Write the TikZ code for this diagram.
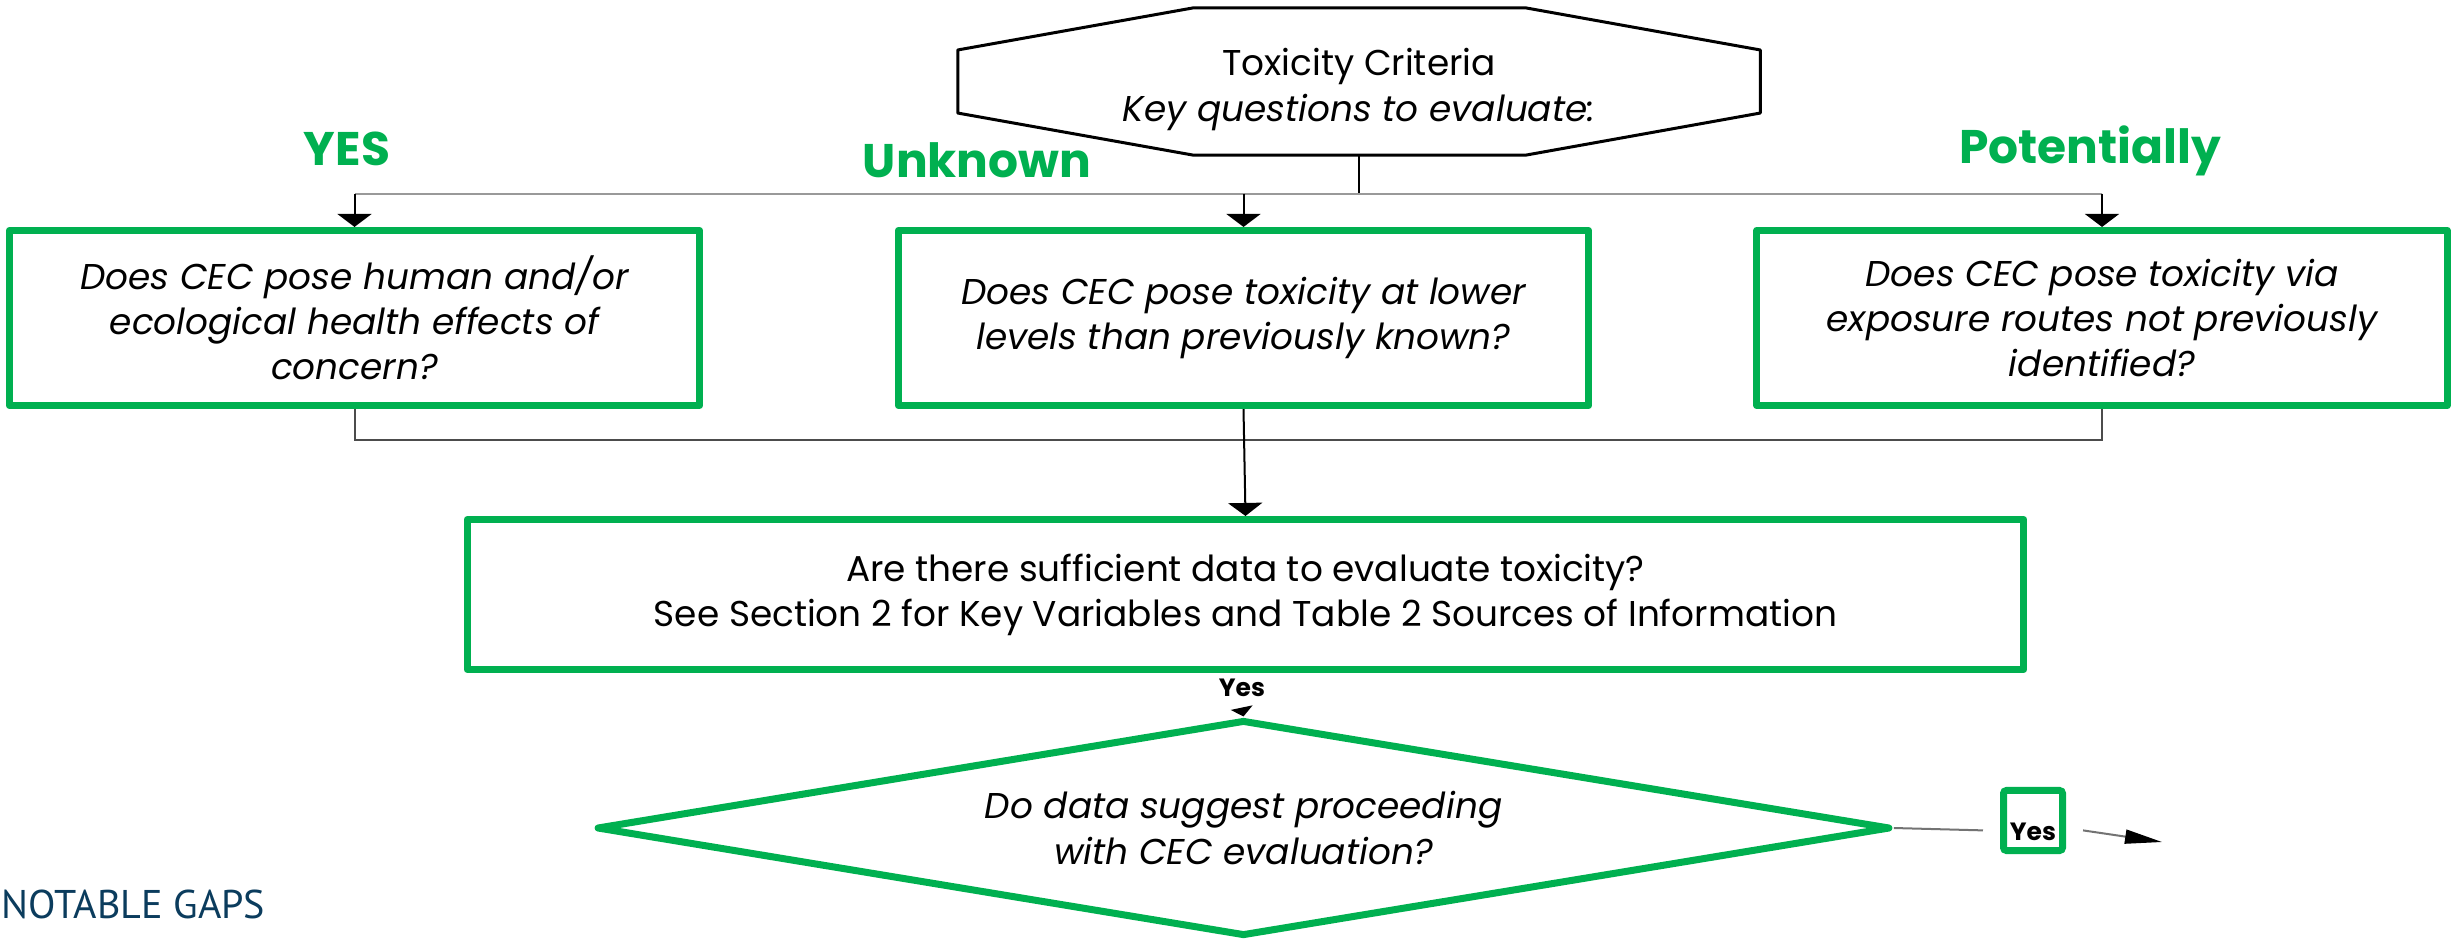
\documentclass[tikz,border=0pt]{standalone}
\usepackage{fontspec}
\setmainfont{Poppins}
\newfontfamily\gapsfont{PT Sans}
\usetikzlibrary{shapes.geometric,arrows.meta,calc}
\definecolor{cecgreen}{HTML}{00B050}
\definecolor{gapblue}{HTML}{0B3C5D}
\newcommand{\bodyfont}{\fontsize{10.2pt}{12.8pt}\selectfont}

\begin{document}
\begin{tikzpicture}[x=0.01cm,y=-0.01cm,
  qbox/.style={draw=cecgreen,line width=0.07cm,line join=round,minimum width=6.9cm,minimum height=1.75cm,inner sep=0pt,align=center,font=\bodyfont\itshape},
  answer/.style={text=cecgreen,anchor=base,font=\fontsize{13.4pt}{16pt}\selectfont\bfseries},
  yeslbl/.style={font=\fontsize{7.1pt}{8pt}\selectfont\bfseries},
  wire/.style={line width=0.02cm},
  arr/.style={wire,-{Triangle[width=0.34cm,length=0.13cm]}}]

\useasboundingbox (0,0) rectangle (2451,945);

\node[minimum width=8.02cm,minimum height=1.47cm,outer sep=0pt,text height=0.9cm,align=center,font=\fontsize{10.2pt}{13.2pt}\selectfont] (crit) at (1359,81.5) {Toxicity Criteria\\\textit{Key questions to evaluate:}};
\draw[line width=0.03cm,line join=round] ($(crit.north west)+(235,0)$) -- ($(crit.north east)+(-234,0)$) -- ($(crit.north east)+(0,42)$) -- ($(crit.south east)+(0,-42)$) -- ($(crit.south east)+(-234,0)$) -- ($(crit.south west)+(235,0)$) -- ($(crit.south west)+(0,-42)$) -- ($(crit.north west)+(0,42)$) -- cycle;

\node[answer] (yes) at (347,165) {YES};
\node[answer] (unknown) at (977,177) {Unknown};
\node[answer] (potential) at (2090,163) {Potentially};

\node[qbox] (q1) at (354.5,318) {Does CEC pose human and/or\\ecological health effects of\\concern?};
\node[qbox] (q2) at (1243.5,318) {Does CEC pose toxicity at lower\\levels than previously known?};
\node[qbox] (q3) at (2102,318) {Does CEC pose toxicity via\\exposure routes not previously\\identified?};

\node[qbox,minimum width=15.56cm,minimum height=1.5cm,font=\bodyfont] (data) at (1245.5,594.5) {Are there sufficient data to evaluate toxicity?\\See Section 2 for Key Variables and Table 2 Sources of Information};

\node[yeslbl] (yes1) at (1242,688) {Yes};
\node[diamond,draw=cecgreen,line width=0.07cm,line join=round,minimum width=12.93cm,minimum height=2.16cm,aspect=6,inner sep=0pt,align=center,font=\bodyfont\itshape] (dec) at (1243.5,828) {Do data suggest proceeding\\with CEC evaluation?};
\node[yeslbl,draw=cecgreen,line width=0.07cm,rounded corners=0.03cm,minimum width=0.59cm,inner sep=0pt,text height=0.495cm,text depth=0.105cm,outer xsep=0.205cm] (yes2) at (2033,820.5) {Yes};
\coordinate (out) at (2162,842);

\node[anchor=base west,inner sep=0pt,text=gapblue,font=\gapsfont\fontsize{11.4pt}{13pt}\selectfont] (gaps) at (1,918) {NOTABLE GAPS};

\draw[wire] (crit.south) -- ++(0,38.5) coordinate (split);
\draw[wire,black!40] (split -| q1.north) -- (split -| q3.north);
\foreach \q in {q1,q2,q3}
  \draw[arr] (split -| \q.north) -- (\q.north);
\draw[wire,black!70] (q1.south) -- ++(0,31) coordinate (merge) -- (merge -| q3.south) -- (q3.south);
\draw[arr] (q2.south) -- (data.north);
\draw[wire,-{Triangle[width=0.22cm,length=0.09cm]}] (yes1.south) -- (dec.north);
\draw[wire,black!55] (dec.east) -- (yes2.mid west);
\draw[wire,black!55,-{Triangle[width=0.14cm,length=0.37cm,color=black]}] (yes2.mid east) -- (out);
\end{tikzpicture}
\end{document}
